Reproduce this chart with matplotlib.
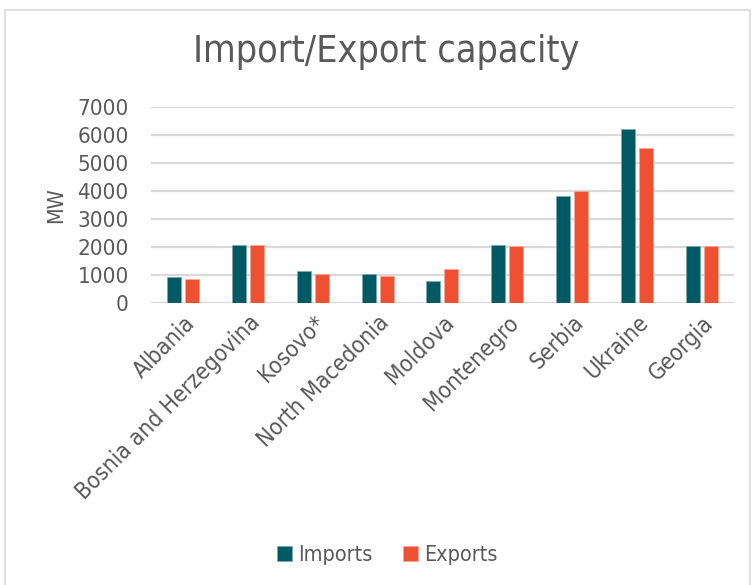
import matplotlib.pyplot as plt
import matplotlib.patches as mpatches
import numpy as np

countries = ['Albania', 'Bosnia and Herzegovina', 'Kosovo*', 'North Macedonia',
             'Moldova', 'Montenegro', 'Serbia', 'Ukraine', 'Georgia']
imports = [930, 2090, 1160, 1030, 800, 2090, 3810, 6200, 2030]
exports = [870, 2090, 1030, 980, 1200, 2030, 4000, 5520, 2030]
yticks = [0, 1000, 2000, 3000, 4000, 5000, 6000, 7000]

teal = '#005A64'
orange = '#F05032'
grey = '#595959'

plt.rcParams['font.family'] = ['DejaVu Sans']

fig = plt.figure(figsize=(7.52, 5.85), dpi=100)

# light frame around the whole chart area
fig.patches.append(mpatches.Rectangle((0.007, -0.01), 0.99, 0.993,
                                      transform=fig.transFigure, fill=False,
                                      edgecolor='#D9D9D9', linewidth=1.2))

ax = fig.add_axes([0.2008, 0.482, 0.7752, 0.335])

x = np.arange(len(countries))
w = 0.216
off = 0.139
ax.bar(x - off, imports, w, color=teal, edgecolor='#7FA9AE', linewidth=0.6,
       label='Imports', zorder=3)
ax.bar(x + off, exports, w, color=orange, edgecolor='#F7A898', linewidth=0.6,
       label='Exports', zorder=3)

ax.set_xlim(-0.5, len(countries) - 0.5)
ax.set_ylim(0, 7000)
ax.set_yticks(yticks)
ax.set_yticklabels([str(t) for t in yticks], fontsize=16, color=grey,
                   fontstretch='condensed')
ax.yaxis.grid(True, color='#D9D9D9', linewidth=1.6, zorder=0)
ax.set_axisbelow(True)
ax.tick_params(axis='y', length=0, pad=16)
ax.tick_params(axis='x', length=0, pad=6)
ax.set_xticks(x)
ax.set_xticklabels(countries, rotation=45, ha='right', rotation_mode='anchor',
                   fontsize=16.5, color=grey, fontstretch='condensed')
for s in ax.spines.values():
    s.set_visible(False)

ax.set_ylabel('MW', fontsize=15.5, color=grey, fontstretch='condensed')
ax.yaxis.set_label_coords(-0.145, 0.5)

fig.text(0.513, 0.911, 'Import/Export capacity', ha='center', va='center',
         fontsize=27, color=grey, fontstretch='condensed')

fig.legend(loc='center', bbox_to_anchor=(0.515, 0.051), ncol=2, frameon=False,
           labelcolor=grey, handlelength=0.7, handleheight=0.7,
           handletextpad=0.3, columnspacing=1.4,
           prop={'size': 15.5, 'stretch': 'condensed'})

fig.savefig('out.png', dpi=100, facecolor='white')
